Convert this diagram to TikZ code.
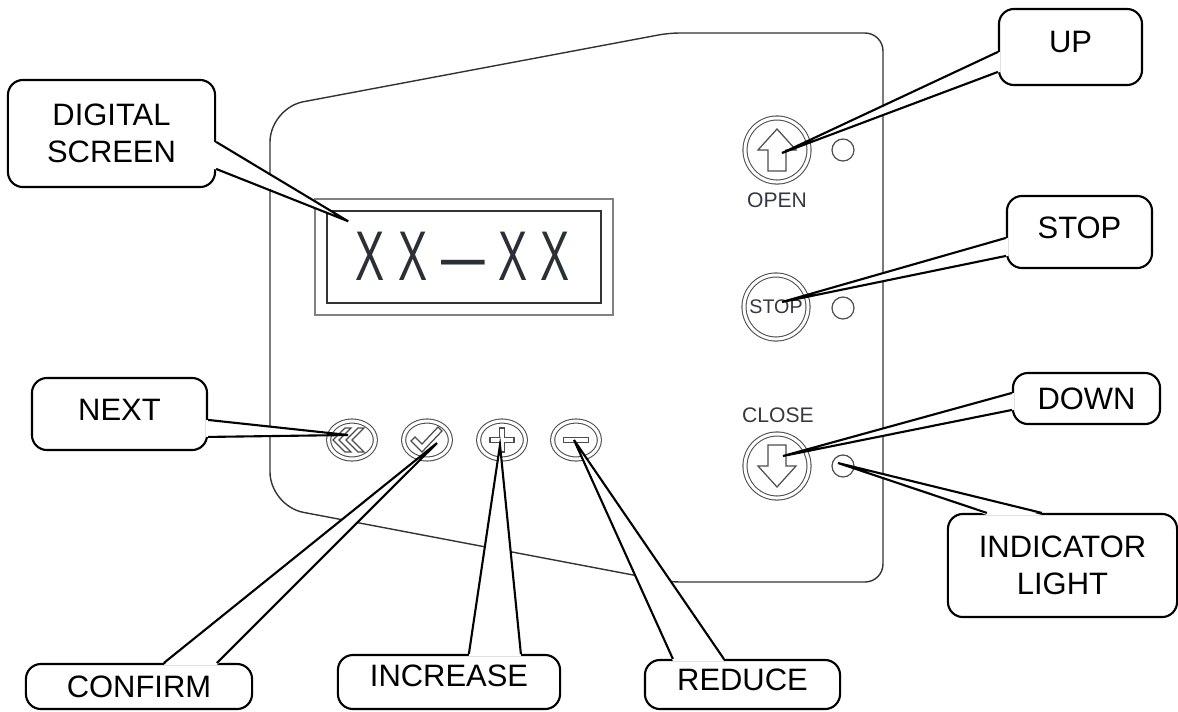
\documentclass[tikz,border=0pt]{standalone}
\usepackage{fontspec}
\setmainfont{Liberation Sans}
\usepackage{graphicx}
\usetikzlibrary{calc,shapes.geometric}
\definecolor{panelgray}{HTML}{333333}
\definecolor{btngray}{HTML}{4D4D4D}
\definecolor{scrgray}{HTML}{808080}
\definecolor{scrtext}{HTML}{2B3036}
\definecolor{lbltext}{HTML}{33393F}

\begin{document}
\begin{tikzpicture}[x=0.01cm,y=-0.01cm,
  callbox/.style={draw=black,line width=0.6pt,fill=white,rounded corners=0.15cm,
    inner sep=0pt,align=center,font=\fontsize{8.8}{10.4}\selectfont},
  callline/.style={draw=black,line width=0.6pt,line join=miter},
  btn/.style={circle,draw=btngray,line width=0.3pt,double=white,double distance=0.03cm,
    minimum size=0.64cm,inner sep=0pt},
  smallbtn/.style={ellipse,draw=btngray,line width=0.3pt,double=white,double distance=0.03cm,
    minimum width=0.467cm,minimum height=0.38cm,inner sep=0pt},
  lamp/.style={circle,draw=btngray,line width=0.35pt,minimum size=0.22cm,inner sep=0pt},
  sym/.style={draw=btngray,line width=0.35pt,line join=miter},
  btnlabel/.style={text=lbltext,font=\fontsize{6}{7}\selectfont,inner sep=0pt}]

  \useasboundingbox (0,0) rectangle (1178,711);

  % ---- Panel outline -----------------------------------------
  \draw[panelgray,line width=0.4pt] (270,300) [rounded corners=0.34cm] -- (270,108)
    [rounded corners=0.1cm] -- (669,33) [rounded corners=0.18cm] -- (883,33)
    -- (883,582) [rounded corners=0.1cm] -- (670,582) [rounded corners=0.34cm]
    -- (270,506) -- cycle;

  % ---- Digital screen ----------------------------------------
  \node[draw=scrgray,line width=0.5pt,minimum width=2.98cm,minimum height=1.16cm] (scrout) at (464,257) {};
  \node[draw=panelgray,line width=0.4pt,minimum width=2.74cm,minimum height=0.92cm] (scrin) at (464,257) {};
  \node[anchor=base,text=scrtext,font=\fontsize{20}{20}\selectfont,inner sep=0pt] (scrval) at (463,280)
    {\scalebox{0.62}[1]{X\kern6.4pt X\kern6.2pt —\kern6.2pt X\kern6pt X}};

  % ---- Right column: open / stop / close ---------------------
  \node[btn] (upbtn) at (777,150) {};
  \draw[sym,shift={(upbtn.center)}] (0,-21) -- (19,0) -- (9,0) -- (9,21) -- (-9,21) -- (-9,0) -- (-19,0) -- cycle;
  \node[btnlabel] (openlbl) at (777,200) {OPEN};
  \node[lamp] (lampup) at (843,150) {};

  \node[btn,font=\fontsize{5.6}{6}\selectfont,text=lbltext] (stopbtn) at (776,307) {STOP};
  \node[lamp] (lampstop) at (843,308) {};

  \node[btnlabel] (closelbl) at (778,415) {CLOSE};
  \node[btn] (downbtn) at (777,466) {};
  \draw[sym,shift={(downbtn.center)}] (0,21) -- (19,0) -- (9,0) -- (9,-21) -- (-9,-21) -- (-9,0) -- (-19,0) -- cycle;
  \node[lamp] (lampdown) at (843,466) {};

  % ---- Bottom row: next / confirm / plus / minus -------------
  \node[smallbtn] (nextbtn) at (352,440) {};
  \draw[sym,shift={(nextbtn.center)}] (-19,0) -- (-7,-12) -- (-1,-12) -- (-13,0) -- (-1,12) -- (-7,12) -- cycle;
  \draw[sym,shift={(nextbtn.center)}] (-6,0) -- (6,-12) -- (12,-12) -- (0,0) -- (12,12) -- (6,12) -- cycle;

  \node[smallbtn] (okbtn) at (427,440) {};
  \draw[sym,shift={(okbtn.center)}] (-16,1) -- (-12,-3) -- (-5,4) -- (11,-13) -- (15,-9) -- (-5,12) -- cycle;

  \node[smallbtn] (plusbtn) at (502,440) {};
  \draw[sym,shift={(plusbtn.center)}] (-2.5,-12) -- (2.5,-12) -- (2.5,-2.5) -- (12,-2.5) -- (12,2.5)
    -- (2.5,2.5) -- (2.5,12) -- (-2.5,12) -- (-2.5,2.5) -- (-12,2.5) -- (-12,-2.5) -- (-2.5,-2.5) -- cycle;

  \node[smallbtn] (minusbtn) at (576,440) {};
  \draw[sym,shift={(minusbtn.center)}] (-12.5,-2.5) rectangle (12.5,2.5);

  % ---- Callouts ----------------------------------------------
  % Digital screen
  \node[callbox,minimum width=2.07cm,minimum height=1.07cm] (scrbox) at (111.5,133.5) {DIGITAL\\SCREEN};
  \coordinate (scrA) at ($(scrbox.north east)+(0,63)$);
  \coordinate (scrB) at ($(scrbox.north east)+(0,90)$);
  \coordinate (scrTip) at ($(scrin.north west)+(22,11)$);
  \fill[white] ($(scrA)+(-2,0)$) -- (scrTip) -- ($(scrB)+(-2,0)$) -- cycle;
  \draw[callline] (scrA) -- (scrTip) -- (scrB);

  % Next
  \node[callbox,minimum width=1.75cm,minimum height=0.72cm,text depth=0.08cm] (nextbox) at (119.5,414) {NEXT};
  \coordinate (nextA) at ($(nextbox.north east)+(0,43)$);
  \coordinate (nextB) at ($(nextbox.north east)+(0,60)$);
  \coordinate (nextTip) at ($(nextbtn.center)+(-4,-5)$);
  \fill[white] ($(nextA)+(-2,0)$) -- (nextTip) -- ($(nextB)+(-2,0)$) -- cycle;
  \draw[callline] (nextA) -- (nextTip) -- (nextB);

  % Up
  \node[callbox,minimum width=1.43cm,minimum height=0.76cm,text depth=0.1cm] (upbox) at (1070.5,47) {UP};
  \coordinate (upA) at ($(upbox.north west)+(0,44)$);
  \coordinate (upB) at ($(upbox.north west)+(0,64)$);
  \coordinate (upTip) at ($(upbtn.center)+(5,3)$);
  \fill[white] ($(upA)+(2,0)$) -- (upTip) -- ($(upB)+(2,0)$) -- cycle;
  \draw[callline] (upA) -- (upTip) -- (upB);

  % Stop
  \node[callbox,minimum width=1.45cm,minimum height=0.72cm,text depth=0.08cm] (stopbox) at (1079.5,232) {STOP};
  \coordinate (stopA) at ($(stopbox.north west)+(0,43)$);
  \coordinate (stopB) at ($(stopbox.north west)+(0,61)$);
  \coordinate (stopTip) at ($(stopbtn.center)+(6,-5)$);
  \fill[white] ($(stopA)+(2,0)$) -- (stopTip) -- ($(stopB)+(2,0)$) -- cycle;
  \draw[callline] (stopA) -- (stopTip) -- (stopB);

  % Down
  \node[callbox,minimum width=1.47cm,minimum height=0.51cm] (downbox) at (1086.5,398.5) {DOWN};
  \coordinate (downA) at ($(downbox.north west)+(0,21)$);
  \coordinate (downB) at ($(downbox.north west)+(0,38)$);
  \coordinate (downTip) at ($(downbtn.center)+(6,-10)$);
  \fill[white] ($(downA)+(2,0)$) -- (downTip) -- ($(downB)+(2,0)$) -- cycle;
  \draw[callline] (downA) -- (downTip) -- (downB);

  % Indicator light
  \node[callbox,minimum width=2.29cm,minimum height=1.03cm] (lampbox) at (1062.5,565.5) {INDICATOR\\LIGHT};
  \coordinate (lampA) at ($(lampbox.north west)+(40,0)$);
  \coordinate (lampB) at ($(lampbox.north west)+(95,0)$);
  \coordinate (lampTip) at ($(lampdown.center)+(-5,-3)$);
  \fill[white] ($(lampA)+(0,2)$) -- (lampTip) -- ($(lampB)+(0,2)$) -- cycle;
  \draw[callline] (lampA) -- (lampTip) -- (lampB);

  % Confirm
  \node[callbox,minimum width=2.26cm,minimum height=0.45cm] (okbox) at (139,686.5) {CONFIRM};
  \coordinate (okA) at ($(okbox.north west)+(139,0)$);
  \coordinate (okB) at ($(okbox.north west)+(192,0)$);
  \coordinate (okTip) at ($(okbtn.center)+(10,3)$);
  \fill[white] ($(okA)+(0,2)$) -- (okTip) -- ($(okB)+(0,2)$) -- cycle;
  \draw[callline] (okA) -- (okTip) -- (okB);

  % Increase
  \node[callbox,minimum width=2.22cm,minimum height=0.54cm,text depth=0.12cm] (plusbox) at (449,682) {INCREASE};
  \coordinate (plusA) at ($(plusbox.north west)+(132,0)$);
  \coordinate (plusB) at ($(plusbox.north west)+(184,0)$);
  \coordinate (plusTip) at ($(plusbtn.center)+(-2,5)$);
  \fill[white] ($(plusA)+(0,2)$) -- (plusTip) -- ($(plusB)+(0,2)$) -- cycle;
  \draw[callline] (plusA) -- (plusTip) -- (plusB);

  % Reduce
  \node[callbox,minimum width=1.95cm,minimum height=0.49cm,text depth=0.1cm] (minusbox) at (742.5,684.5) {REDUCE};
  \coordinate (minusA) at ($(minusbox.north west)+(29,0)$);
  \coordinate (minusB) at ($(minusbox.north west)+(80,0)$);
  \coordinate (minusTip) at ($(minusbtn.center)+(-2,0)$);
  \fill[white] ($(minusA)+(0,2)$) -- (minusTip) -- ($(minusB)+(0,2)$) -- cycle;
  \draw[callline] (minusA) -- (minusTip) -- (minusB);

\end{tikzpicture}
\end{document}
